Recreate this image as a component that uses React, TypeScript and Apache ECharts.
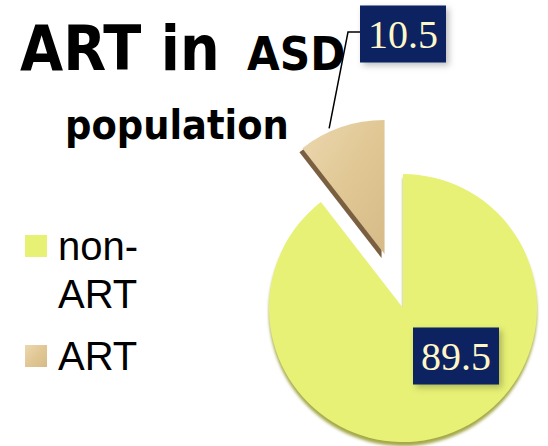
import React, { useEffect, useRef } from "react";
import * as echarts from "echarts";

const categories = ["non-ART", "ART"];
const values = [89.5, 10.5];
const titleLine1 = "ART in";
const titleLine1b = "ASD";
const titleLine2 = "population";

const TITLE_FONT = '"Comic Sans MS", "DejaVu Sans Condensed", "DejaVu Sans", sans-serif';

export default function App() {
  const ref = useRef<HTMLDivElement>(null);
  useEffect(() => {
    if (!ref.current) return;
    const chart = echarts.init(ref.current, undefined, { renderer: "svg" });

    const center = [403, 308];
    const explode = 57;
    const total = values.reduce((a, b) => a + b, 0);
    // mid angle of the ART slice (clockwise from 12 o'clock)
    const mid = (2 * Math.PI * (values[0] + values[1] / 2)) / total;
    const explodedCenter = [center[0] + explode * Math.sin(mid), center[1] - explode * Math.cos(mid)];

    const colors = [
      "#e7f174",
      new echarts.graphic.LinearGradient(0, 0, 1, 1, [
        { offset: 0, color: "#ecd8b0" },
        { offset: 0.5, color: "#e0c794" },
        { offset: 1, color: "#d6bb88" },
      ]),
    ];
    const shadows = [
      { shadowColor: "#a4a84a", shadowOffsetX: 0, shadowOffsetY: 4, shadowBlur: 3 },
      { shadowColor: "#7a6040", shadowOffsetX: -3, shadowOffsetY: 4, shadowBlur: 0 },
    ];
    const hidden = { color: "rgba(0,0,0,0)", shadowBlur: 0, shadowOffsetX: 0, shadowOffsetY: 0 };
    const labelBox = {
      show: true,
      backgroundColor: "#0b2160",
      color: "#fff7c8",
      fontFamily: '"Liberation Serif", "Times New Roman", serif',
      fontSize: 40,
      lineHeight: 45,
      padding: [6, 8, 6, 8],
      shadowColor: "rgba(0,0,0,0.25)",
      shadowBlur: 6,
      shadowOffsetX: 3,
      shadowOffsetY: 3,
      formatter: "{c}",
    };
    const legendText = {
      fontFamily: '"Liberation Sans", Arial, sans-serif',
      fontSize: 40,
      lineHeight: 48,
      color: "#000",
      padding: [0, 0, 0, 6],
    };

    const artLabelPos = [403, 34];

    chart.setOption({
      animation: false,
      legend: [
        {
          data: [{ name: categories[0] }],
          left: 25,
          top: 174,
          padding: 0,
          orient: "vertical",
          icon: "rect",
          itemWidth: 22,
          itemHeight: 22,
          selectedMode: false,
          formatter: () => "\u00a0\nnon-\nART",
          textStyle: legendText,
        },
        {
          data: [{ name: categories[1] }],
          left: 25,
          top: 332,
          padding: 0,
          orient: "vertical",
          icon: "rect",
          itemWidth: 22,
          itemHeight: 22,
          selectedMode: false,
          textStyle: legendText,
        },
      ],
      graphic: [
        {
          type: "text",
          left: 20,
          top: 17,
          style: { text: titleLine1, font: `bold 62px ${TITLE_FONT}`, fill: "#000" },
        },
        {
          type: "text",
          left: 247,
          top: 30,
          style: { text: titleLine1b, font: `bold 47px ${TITLE_FONT}`, fill: "#000" },
        },
        {
          type: "text",
          left: 65,
          top: 104,
          style: { text: titleLine2, font: `bold 41px ${TITLE_FONT}`, fill: "#000" },
        },
      ],
      series: [
        {
          type: "pie",
          center,
          radius: 134,
          startAngle: 90,
          clockwise: true,
          silent: true,
          emphasis: { disabled: true },
          label: { ...labelBox, position: "inside" },
          labelLine: { show: false },
          labelLayout: () => ({ x: 456, y: 356, align: "center", verticalAlign: "middle" }),
          data: [
            { name: categories[0], value: values[0], itemStyle: { color: colors[0], ...shadows[0] } },
            { name: "", value: values[1], itemStyle: hidden, label: { show: false } },
          ],
        },
        {
          type: "pie",
          center: explodedCenter,
          radius: 134,
          startAngle: 90,
          clockwise: true,
          silent: true,
          emphasis: { disabled: true },
          label: { ...labelBox, position: "outside" },
          labelLine: {
            show: true,
            length: 20,
            length2: 10,
            lineStyle: { color: "#000", width: 1.5 },
          },
          labelLayout: (params: any) => {
            const w = params.labelRect ? params.labelRect.width : 86;
            const leftEdge = artLabelPos[0] - w / 2;
            const start = params.labelLinePoints ? params.labelLinePoints[0] : [330, 127];
            return {
              x: artLabelPos[0],
              y: artLabelPos[1],
              align: "center",
              verticalAlign: "middle",
              labelLinePoints: [
                [start[0] - 12, start[1] + 1],
                [leftEdge - 12, artLabelPos[1] - 2],
                [leftEdge, artLabelPos[1] - 2],
              ],
            };
          },
          data: [
            { name: " ", value: values[0], itemStyle: hidden, label: { show: false }, labelLine: { show: false } },
            { name: categories[1], value: values[1], itemStyle: { color: colors[1], ...shadows[1] } },
          ],
        },
      ],
    });
    return () => chart.dispose();
  }, []);
  return (
    <div
      ref={ref}
      style={{ position: "absolute", left: 0, top: 0, width: 548, height: 446, background: "#fff" }}
    />
  );
}
